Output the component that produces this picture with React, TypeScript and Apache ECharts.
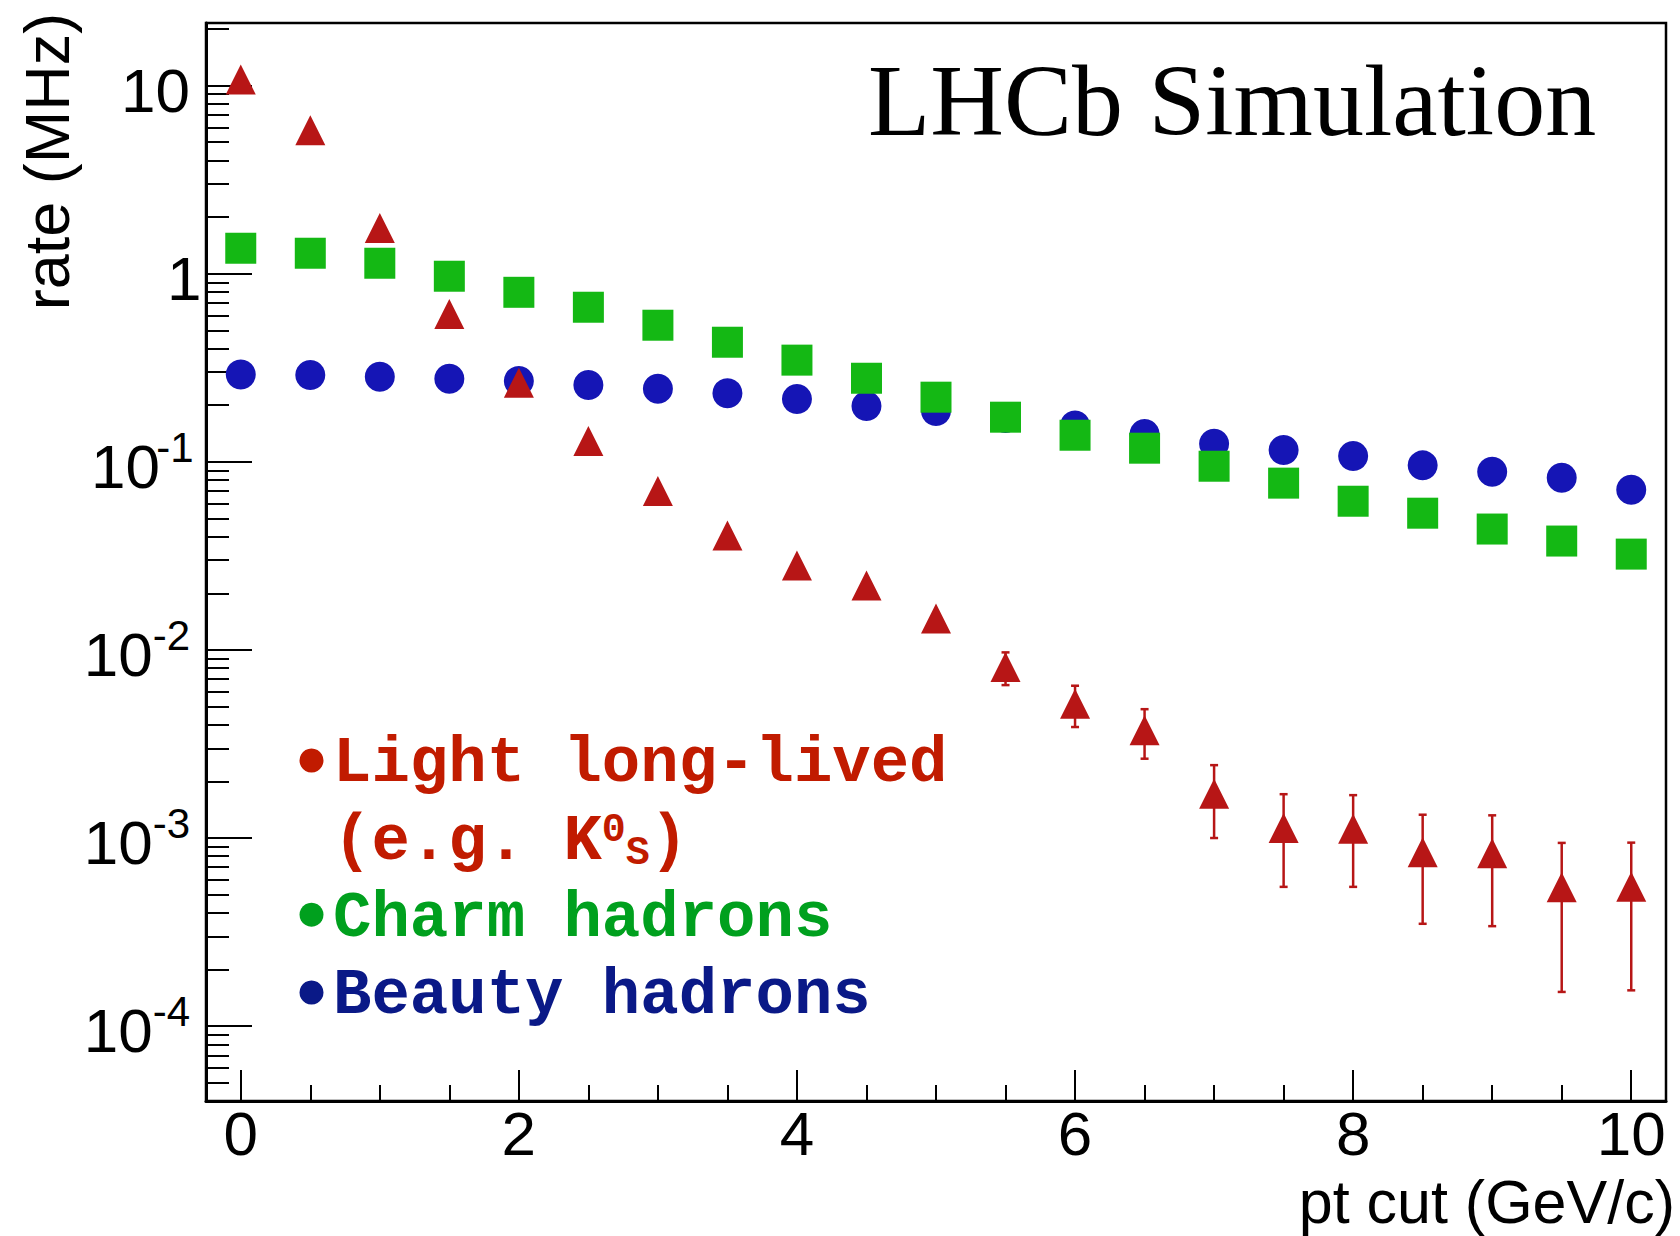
import React, { useEffect, useRef } from 'react';
import * as echarts from 'echarts';

// pt cut values (GeV/c)
const ptCut = [0, 0.5, 1, 1.5, 2, 2.5, 3, 3.5, 4, 4.5, 5, 5.5, 6, 6.5, 7, 7.5, 8, 8.5, 9, 9.5, 10];

// rates in MHz
const lightRate = [10.76, 5.79, 1.75, 0.611, 0.263, 0.129, 0.07, 0.0406, 0.0281, 0.022, 0.0147, 0.0081, 0.00517, 0.00374, 0.00172, 0.00113, 0.00112, 0.00084, 0.00083, 0.000547, 0.00055];
const lightErr = [0, 0, 0, 0, 0, 0, 0, 0, 0, 0, 0, 0.0016, 0.00128, 0.0011, 0.00072, 0.00058, 0.00057, 0.00049, 0.00049, 0.000395, 0.000395];
const charmRate = [1.365, 1.284, 1.136, 0.969, 0.796, 0.663, 0.532, 0.432, 0.347, 0.278, 0.2205, 0.1726, 0.1384, 0.1181, 0.0947, 0.077, 0.0617, 0.0533, 0.0439, 0.0379, 0.0323];
const beautyRate = [0.291, 0.289, 0.283, 0.276, 0.269, 0.256, 0.2445, 0.2314, 0.2159, 0.198, 0.186, 0.171, 0.156, 0.1405, 0.1248, 0.1155, 0.1074, 0.0957, 0.0886, 0.0823, 0.0711];

// axis ticks
const xLabelTicks = [0, 2, 4, 6, 8, 10];
const xMinorTicks = [0.5, 1, 1.5, 2.5, 3, 3.5, 4.5, 5, 5.5, 6.5, 7, 7.5, 8.5, 9, 9.5];
const yMajorTicks = [1e-4, 1e-3, 1e-2, 0.1, 1, 10];
const yMinorTicks = [
  5e-5, 6e-5, 7e-5, 8e-5, 9e-5,
  2e-4, 3e-4, 4e-4, 5e-4, 6e-4, 7e-4, 8e-4, 9e-4,
  2e-3, 3e-3, 4e-3, 5e-3, 6e-3, 7e-3, 8e-3, 9e-3,
  0.02, 0.03, 0.04, 0.05, 0.06, 0.07, 0.08, 0.09,
  0.2, 0.3, 0.4, 0.5, 0.6, 0.7, 0.8, 0.9,
  2, 3, 4, 5, 6, 7, 8, 9,
  20,
];

const legendEntries = ['Light long-lived', 'Charm hadrons', 'Beauty hadrons'];

const RED = '#B71616';
const GREEN = '#14B814';
const BLUE = '#1515B5';
const RED_TXT = '#C11B00';
const GREEN_TXT = '#00A01E';
const BLUE_TXT = '#0A1987';

const SANS = 'Liberation Sans, Arial, Helvetica, sans-serif';
const MONO = 'Liberation Mono, Courier New, monospace';
const SERIF = 'Liberation Serif, Times New Roman, serif';

const X_MIN = -0.25;
const X_MAX = 10.25;
const Y_MIN = 4e-5;
const Y_MAX = 21.5;

function buildOption() {
  const pairs = (ys: number[]) => ptCut.map((x, i) => [x, ys[i]]);
  const errData = ptCut
    .map((x, i) => [x, lightRate[i] - lightErr[i], lightRate[i] + lightErr[i], lightErr[i]])
    .filter((d) => d[3] > 0)
    .map((d) => [d[0], d[1], d[2]]);

  const tickStyle = { color: '#000', width: 2 };

  const yLabelFormatter = (v: number) => {
    const e = Math.round(Math.log10(v));
    if (e === 1) return '{b|10}';
    if (e === 0) return '{one|1}';
    return `{b|10}{${e === -1 ? 's1' : 's'}|${e}}`;
  };

  const legendFont = { fontFamily: MONO, fontWeight: 'bold' as const, fontSize: 64 };

  return {
    animation: false,
    backgroundColor: '#fff',
    grid: {
      left: 206,
      top: 23,
      right: 14,
      bottom: 135,
      show: true,
      borderColor: '#000',
      borderWidth: 2.5,
      backgroundColor: 'transparent',
      containLabel: false,
      outerBoundsMode: 'none',
    },
    xAxis: [
      {
        type: 'value',
        min: X_MIN,
        max: X_MAX,
        position: 'bottom',
        axisLine: { show: true, onZero: false, lineStyle: { color: '#000', width: 3 } },
        axisTick: { show: true, inside: true, length: 31, customValues: xLabelTicks, lineStyle: tickStyle },
        axisLabel: {
          show: true,
          customValues: xLabelTicks,
          color: '#000',
          fontFamily: SANS,
          fontSize: 62,
          lineHeight: 50,
          margin: 7.5,
        },
        splitLine: { show: false },
      },
      {
        type: 'value',
        min: X_MIN,
        max: X_MAX,
        position: 'bottom',
        axisLine: { show: false, onZero: false },
        axisTick: { show: true, inside: true, length: 16, customValues: xMinorTicks, lineStyle: tickStyle },
        axisLabel: { show: false },
        splitLine: { show: false },
      },
    ],
    yAxis: [
      {
        type: 'log',
        logBase: 10,
        min: Y_MIN,
        max: Y_MAX,
        position: 'left',
        axisLine: { show: true, onZero: false, lineStyle: { color: '#000', width: 3 } },
        axisTick: { show: true, inside: true, length: 46, customValues: yMajorTicks, lineStyle: tickStyle },
        axisLabel: {
          show: true,
          customValues: yMajorTicks,
          formatter: yLabelFormatter,
          margin: 16,
          padding: [9.6, 0, 0, 0],
          color: '#000',
          fontFamily: SANS,
          rich: {
            b: { fontFamily: SANS, fontSize: 62, lineHeight: 81, color: '#000' },
            one: { fontFamily: SANS, fontSize: 62, lineHeight: 81, width: 23, align: 'left', color: '#000' },
            s: { fontFamily: SANS, fontSize: 42, lineHeight: 42, verticalAlign: 'top', color: '#000' },
            s1: { fontFamily: SANS, fontSize: 42, lineHeight: 42, verticalAlign: 'top', width: 30, align: 'left', color: '#000' },
          },
        },
        splitLine: { show: false },
      },
      {
        type: 'log',
        logBase: 10,
        min: Y_MIN,
        max: Y_MAX,
        position: 'left',
        axisLine: { show: false, onZero: false },
        axisTick: { show: true, inside: true, length: 23, customValues: yMinorTicks, lineStyle: tickStyle },
        axisLabel: { show: false },
        splitLine: { show: false },
      },
    ],
    series: [
      {
        name: legendEntries[2],
        type: 'scatter',
        xAxisIndex: 0,
        yAxisIndex: 0,
        symbol: 'circle',
        symbolSize: 30,
        itemStyle: { color: BLUE, opacity: 1 },
        data: pairs(beautyRate),
      },
      {
        name: legendEntries[1],
        type: 'scatter',
        xAxisIndex: 0,
        yAxisIndex: 0,
        symbol: 'rect',
        symbolSize: 31,
        itemStyle: { color: GREEN, opacity: 1 },
        data: pairs(charmRate),
      },
      {
        name: legendEntries[0] + ' errors',
        type: 'custom',
        xAxisIndex: 0,
        yAxisIndex: 0,
        encode: { x: 0, y: [1, 2] },
        renderItem: (_params: any, api: any) => {
          const x = api.value(0);
          const top = api.coord([x, api.value(2)]);
          const bot = api.coord([x, api.value(1)]);
          const cap = 4;
          const st = { stroke: RED, lineWidth: 2.5 };
          return {
            type: 'group',
            children: [
              { type: 'line', shape: { x1: top[0], y1: top[1], x2: bot[0], y2: bot[1] }, style: st },
              { type: 'line', shape: { x1: top[0] - cap, y1: top[1], x2: top[0] + cap, y2: top[1] }, style: st },
              { type: 'line', shape: { x1: bot[0] - cap, y1: bot[1], x2: bot[0] + cap, y2: bot[1] }, style: st },
            ],
          };
        },
        data: errData,
      },
      {
        name: legendEntries[0],
        type: 'scatter',
        xAxisIndex: 0,
        yAxisIndex: 0,
        symbol: 'triangle',
        symbolSize: 30,
        itemStyle: { color: RED, opacity: 1 },
        data: pairs(lightRate),
      },
    ],
    graphic: [
      {
        type: 'text',
        x: 868,
        y: 100,
        style: { text: 'LHCb Simulation', fontFamily: SERIF, fontSize: 102, fill: '#000', align: 'left', verticalAlign: 'middle' },
      },
      {
        type: 'text',
        x: 47,
        y: 161.5,
        rotation: Math.PI / 2,
        style: { text: 'rate (MHz)', fontFamily: SANS, fontSize: 63, fill: '#000', align: 'center', verticalAlign: 'middle' },
      },
      {
        type: 'text',
        x: 1675,
        y: 1201.8,
        style: { text: 'pt cut (GeV/c)', fontFamily: SANS, fontSize: 61, fill: '#000', align: 'right', verticalAlign: 'middle' },
      },
      // legend bullets
      { type: 'circle', shape: { cx: 311.5, cy: 760.5, r: 12 }, style: { fill: RED_TXT } },
      { type: 'circle', shape: { cx: 311.5, cy: 914.7, r: 12 }, style: { fill: GREEN_TXT } },
      { type: 'circle', shape: { cx: 311.5, cy: 992.5, r: 12 }, style: { fill: BLUE_TXT } },
      // legend texts
      {
        type: 'text', x: 333, y: 764,
        style: { text: legendEntries[0], ...legendFont, fill: RED_TXT, align: 'left', verticalAlign: 'middle' },
      },
      {
        type: 'text', x: 333, y: 841.5,
        style: {
          text: '{m|(e.g. K}{sup|0}{sub|S}{m|)}',
          ...legendFont,
          fill: RED_TXT,
          align: 'left',
          verticalAlign: 'middle',
          rich: {
            m: { ...legendFont, lineHeight: 63, fill: RED_TXT },
            sup: { fontFamily: MONO, fontWeight: 'bold', fontSize: 40, lineHeight: 40, verticalAlign: 'top', fill: RED_TXT },
            sub: { fontFamily: MONO, fontWeight: 'bold', fontSize: 40, lineHeight: 40, verticalAlign: 'bottom', fill: RED_TXT },
          },
        },
      },
      {
        type: 'text', x: 333, y: 919,
        style: { text: legendEntries[1], ...legendFont, fill: GREEN_TXT, align: 'left', verticalAlign: 'middle' },
      },
      {
        type: 'text', x: 333, y: 996,
        style: { text: legendEntries[2], ...legendFont, fill: BLUE_TXT, align: 'left', verticalAlign: 'middle' },
      },
    ],
  };
}

export default function App() {
  const ref = useRef<HTMLDivElement>(null);
  useEffect(() => {
    if (!ref.current) return;
    const chart = echarts.init(ref.current, null, { renderer: 'svg' });
    chart.setOption(buildOption() as any);
    return () => chart.dispose();
  }, []);
  return (
    <div
      ref={ref}
      style={{ position: 'fixed', left: 0, top: 0, width: 1680, height: 1236, background: '#fff' }}
    />
  );
}
